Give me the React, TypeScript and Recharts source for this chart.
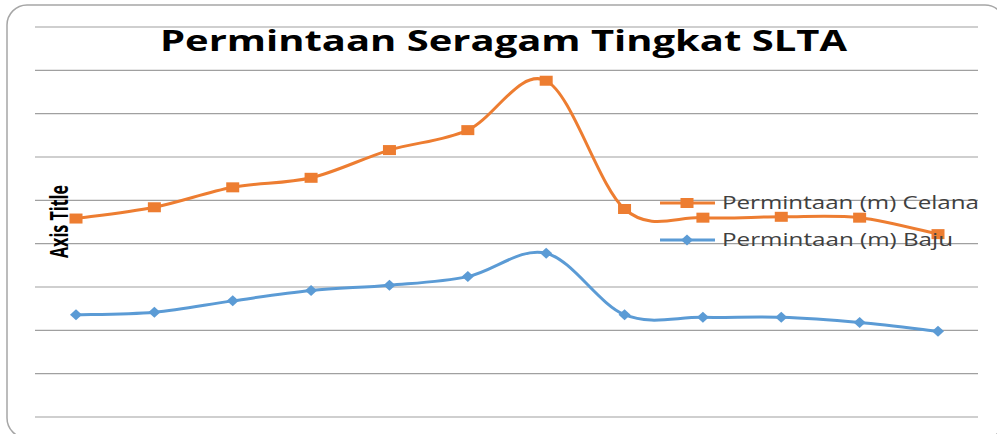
import React from "react";
import { LineChart, Line, XAxis, YAxis, CartesianGrid } from "recharts";

const categories = ["1", "2", "3", "4", "5", "6", "7", "8", "9", "10", "11", "12"];
const celana = [229, 242, 265, 276, 308, 331, 388, 240, 230, 231, 230, 211];
const baju = [118, 121, 134, 146, 152, 162, 189, 118, 115, 115, 109, 99];
const yTicks = [0, 50, 100, 150, 200, 250, 300, 350, 400, 450];

const TITLE = "Permintaan Seragam Tingkat SLTA";
const AXIS_TITLE = "Axis Title";
const NAME_CELANA = "Permintaan (m) Celana";
const NAME_BAJU = "Permintaan (m) Baju";

const ORANGE = "#ED7D31";
const BLUE = "#5B9BD5";

const data = categories.map((c, i) => ({ cat: c, celana: celana[i], baju: baju[i] }));

// Catmull-Rom style smoothing (similar to Excel smoothed lines)
function smoothCurve(context: any) {
  let pts: number[][] = [];
  return {
    areaStart() {},
    areaEnd() {},
    lineStart() {
      pts = [];
    },
    lineEnd() {
      const n = pts.length;
      if (!n) return;
      context.moveTo(pts[0][0], pts[0][1]);
      for (let i = 0; i < n - 1; i++) {
        const p0 = pts[i - 1] || pts[i];
        const p1 = pts[i];
        const p2 = pts[i + 1];
        const p3 = pts[i + 2] || p2;
        context.bezierCurveTo(
          p1[0] + (p2[0] - p0[0]) / 6,
          p1[1] + (p2[1] - p0[1]) / 6,
          p2[0] - (p3[0] - p1[0]) / 6,
          p2[1] - (p3[1] - p1[1]) / 6,
          p2[0],
          p2[1]
        );
      }
    },
    point(x: number, y: number) {
      pts.push([+x, +y]);
    },
  };
}

const SquareDot = (props: any) => {
  const { cx, cy } = props;
  if (cx == null || cy == null) return null;
  return <rect x={cx - 6.5} y={cy - 5} width={13} height={10} fill={ORANGE} />;
};

const DiamondDot = (props: any) => {
  const { cx, cy } = props;
  if (cx == null || cy == null) return null;
  return (
    <polygon
      points={`${cx},${cy - 5.5} ${cx + 6},${cy} ${cx},${cy + 5.5} ${cx - 6},${cy}`}
      fill={BLUE}
    />
  );
};

const legendItems = [
  { name: NAME_CELANA, color: ORANGE, kind: "square", len: 257 },
  { name: NAME_BAJU, color: BLUE, kind: "diamond", len: 231 },
];

export default function App() {
  return (
    <div style={{ position: "absolute", left: 0, top: 0, width: 997, height: 434, background: "#fff", overflow: "hidden" }}>
      <LineChart
        width={997}
        height={434}
        data={data}
        margin={{ top: 27, right: 19, bottom: 17, left: 35 }}
      >
        <CartesianGrid vertical={false} stroke="#a0a0a0" strokeWidth={1.2} />
        <XAxis dataKey="cat" hide padding={{ left: 41, right: 40 }} />
        <YAxis hide domain={[0, 450]} ticks={yTicks} />
        <Line
          dataKey="celana"
          name={NAME_CELANA}
          type={smoothCurve as any}
          stroke={ORANGE}
          strokeWidth={3}
          dot={<SquareDot />}
          activeDot={false}
          isAnimationActive={false}
        />
        <Line
          dataKey="baju"
          name={NAME_BAJU}
          type={smoothCurve as any}
          stroke={BLUE}
          strokeWidth={3}
          dot={<DiamondDot />}
          activeDot={false}
          isAnimationActive={false}
        />
      </LineChart>
      <svg
        width={997}
        height={434}
        style={{ position: "absolute", left: 0, top: 0, pointerEvents: "none" }}
      >
        <rect x={7} y={5} width={998} height={433} rx={20} ry={20} fill="none" stroke="#a6a6a6" strokeWidth={1.5} />
        <text
          x={160}
          y={51}
          fontFamily="'Open Sans', sans-serif"
          fontWeight={700}
          fontSize={28}
          fill="#000"
          textLength={687}
          lengthAdjust="spacingAndGlyphs"
        >
          {TITLE}
        </text>
        <text
          transform="translate(67.5,221.5) scale(1.5,1) rotate(-90)"
          textAnchor="middle"
          fontFamily="'Open Sans', sans-serif"
          fontWeight={700}
          fontSize={16.5}
          fill="#000"
          textLength={73}
          lengthAdjust="spacingAndGlyphs"
        >
          {AXIS_TITLE}
        </text>
        {legendItems.map((it, i) => {
          const y = 203 + i * 37;
          return (
            <g key={it.name}>
              <line x1={660} x2={715} y1={y} y2={y} stroke={it.color} strokeWidth={3} />
              {it.kind === "square" ? (
                <rect x={687 - 6.5} y={y - 5} width={13} height={10} fill={it.color} />
              ) : (
                <polygon
                  points={`687,${y - 5.5} 693,${y} 687,${y + 5.5} 681,${y}`}
                  fill={it.color}
                />
              )}
              <text
                x={722}
                y={y + 6}
                fontFamily="'Open Sans', sans-serif"
                fontSize={17.5}
                fill="#404040"
                textLength={it.len}
                lengthAdjust="spacingAndGlyphs"
              >
                {it.name}
              </text>
            </g>
          );
        })}
      </svg>
    </div>
  );
}
